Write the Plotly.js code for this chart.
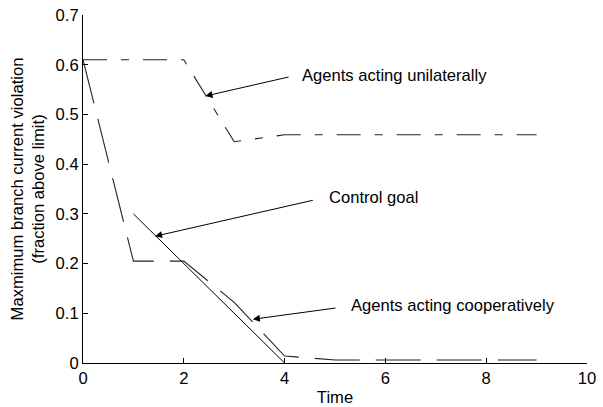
<!DOCTYPE html>
<html>
<head>
<meta charset="utf-8">
<script src="https://cdn.plot.ly/plotly-3.0.1.min.js"></script>
<style>html,body{margin:0;padding:0;background:#fff;}#chart{width:603px;height:407px;}</style>
</head>
<body>
<div id="chart"></div>
<script>
// Data
const unilateralX = [0, 2, 3, 4, 5, 6, 7, 8, 9];
const unilateralY = [0.61, 0.61, 0.445, 0.459, 0.459, 0.459, 0.459, 0.459, 0.459];
const cooperativeX = [0, 1, 2, 3, 4, 5, 6, 7, 8, 9];
const cooperativeY = [0.61, 0.205, 0.205, 0.122, 0.014, 0.006, 0.006, 0.006, 0.006, 0.006];
const goalX = [1, 4];
const goalY = [0.3, 0];
const xTicks = [0, 2, 4, 6, 8, 10];
const yTicks = [0, 0.1, 0.2, 0.3, 0.4, 0.5, 0.6, 0.7];
const yTickLabels = ['0', '0.1', '0.2', '0.3', '0.4', '0.5', '0.6', '0.7'];
const labelTexts = ['Agents acting unilaterally', 'Control goal', 'Agents acting cooperatively'];
const labelX = [4.31, 4.85, 5.27];
const labelY = [0.578, 0.333, 0.115];
const arrowTailX = [4.11, 4.59, 5.04];
const arrowTailY = [0.576, 0.328, 0.111];
const arrowHeadX = [2.43, 1.43, 3.37];
const arrowHeadY = [0.537, 0.255, 0.088];

const FONT = 'Arial, "Liberation Sans", sans-serif';
const FS = 16.6;

const traces = [
  {x: unilateralX, y: unilateralY, mode: 'lines', type: 'scatter',
   line: {color: '#222', width: 1.1, dash: '24px,14px,8px,14px'}, hoverinfo: 'skip'},
  {x: cooperativeX, y: cooperativeY, mode: 'lines', type: 'scatter',
   line: {color: '#222', width: 1.1, dash: '45px,16px'}, hoverinfo: 'skip'},
  {x: goalX, y: goalY, mode: 'lines', type: 'scatter',
   line: {color: '#000', width: 1}, hoverinfo: 'skip'}
];

const annotations = [];
for (let i = 0; i < labelTexts.length; i++) {
  annotations.push({
    x: arrowHeadX[i], y: arrowHeadY[i], xref: 'x', yref: 'y',
    ax: arrowTailX[i], ay: arrowTailY[i], axref: 'x', ayref: 'y',
    text: '', showarrow: true, arrowhead: 2, arrowsize: 1.4, arrowwidth: 1, arrowcolor: '#000'
  });
  annotations.push({
    x: labelX[i], y: labelY[i], xref: 'x', yref: 'y',
    text: labelTexts[i], showarrow: false, xanchor: 'left', yanchor: 'middle',
    font: {family: FONT, size: FS, color: '#000'}
  });
}

const layout = {
  width: 603, height: 407,
  margin: {l: 83, r: 16, t: 15, b: 44, pad: 0},
  paper_bgcolor: '#fff', plot_bgcolor: '#fff',
  showlegend: false,
  font: {family: FONT, size: FS, color: '#000'},
  xaxis: {
    range: [0, 10], tickvals: xTicks, ticktext: xTicks.map(String),
    ticks: 'inside', ticklen: 5, tickcolor: '#000', tickwidth: 1,
    showline: true, linecolor: '#000', linewidth: 1, showgrid: false, zeroline: false,
    tickfont: {family: FONT, size: FS, color: '#000'},
    title: {text: 'Time', font: {family: FONT, size: FS, color: '#000'}, standoff: 4}
  },
  yaxis: {
    range: [0, 0.7], tickvals: yTicks, ticktext: yTickLabels,
    ticks: 'inside', ticklen: 5, tickcolor: '#000', tickwidth: 1,
    showline: true, linecolor: '#000', linewidth: 1, showgrid: false, zeroline: false,
    tickfont: {family: FONT, size: FS, color: '#000'},
    title: {text: 'Maxmimum branch current violation<br>(fraction above limit)', font: {family: FONT, size: FS, color: '#000'}, standoff: 6}
  },
  annotations: annotations
};

Plotly.newPlot('chart', traces, layout, {staticPlot: true, displayModeBar: false});
</script>
</body>
</html>
